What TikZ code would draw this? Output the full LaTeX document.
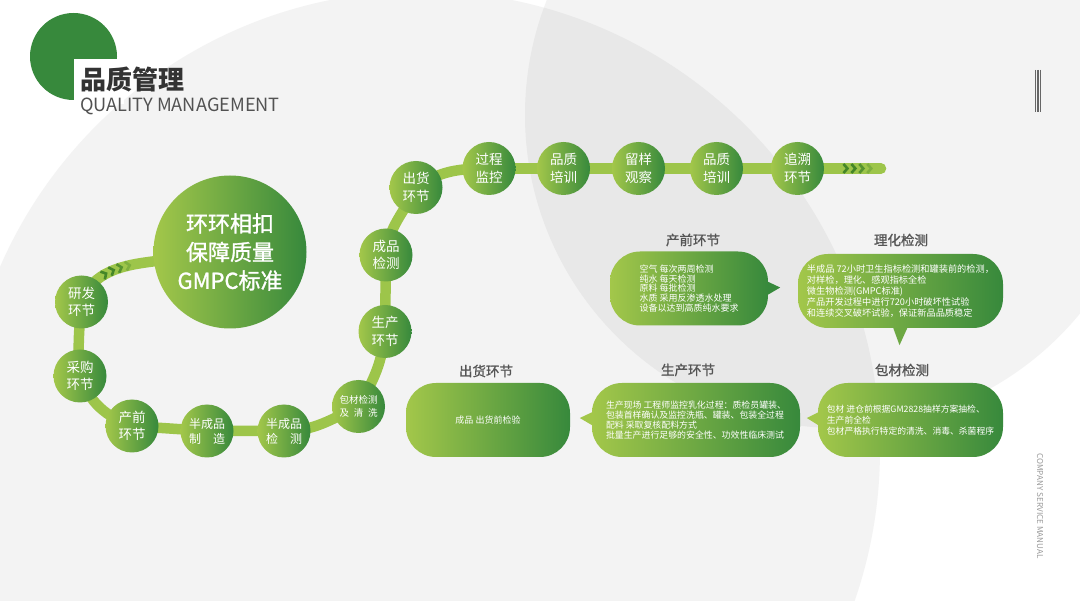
\documentclass[tikz,border=0pt]{standalone}
\usepackage{fontspec}
\setmainfont{Noto Sans CJK SC}
\newfontfamily\semibold[FakeBold=1.2]{Noto Sans CJK SC}
\usetikzlibrary{backgrounds,calc,decorations.markings}

\definecolor{leaf}{RGB}{163,199,74}
\definecolor{forest}{RGB}{55,137,60}
\definecolor{trackgreen}{RGB}{157,197,74}
\definecolor{chevgreen}{RGB}{68,134,40}
\definecolor{paper}{RGB}{243,243,243}
\definecolor{lensgrey}{RGB}{232,232,232}
\definecolor{ink}{RGB}{85,85,85}

\newcommand\chevmark[1]{\draw[line width=2.6pt,line cap=butt,line join=miter,#1] (-2.5,-4.5) -- (1.5,0) -- (-2.5,4.5);}

\begin{document}
\begin{tikzpicture}[
  x=1pt,y=-1pt,
  stage/.style={circle,minimum size=53pt,inner sep=0pt,left color=leaf,right color=forest,text=white,align=center,font=\fontsize{13.5}{17.5}\selectfont},
  stagesm/.style={stage,font=\fontsize{12}{15}\selectfont},
  hub/.style={stage,minimum size=153pt,font=\semibold\fontsize{22}{28.5}\selectfont},
  bubble/.style={rounded corners=30pt,left color=leaf,right color=forest,text=white,align=left,inner sep=0pt,minimum height=74pt},
  btitle/.style={text=ink,font=\semibold\fontsize{13.5}{14}\selectfont},
  trail/.style={line width=10.5pt,line cap=round,trackgreen},
  chevs/.style={postaction={decorate,decoration={markings,
    mark=at position #1 with {\chevmark{chevgreen}},
    mark=at position #1+.095 with {\chevmark{chevgreen}},
    mark=at position #1+.19 with {\chevmark{chevgreen!80!trackgreen}},
    mark=at position #1+.285 with {\chevmark{chevgreen!35!trackgreen}}}}}
]
\useasboundingbox (0,0) rectangle (1080,601);

% title block
\fill[forest] (73.5,56.5) circle (43.5);
\fill[white] (74,59) rectangle (124,104);
\node[anchor=west,inner sep=0pt,text=black!80,font=\bfseries\fontsize{26}{26}\selectfont] (ttl) at (80,79.5) {品质管理};
\node[anchor=west,inner sep=0pt,text=black!68,font=\fontsize{18.2}{19}\selectfont] (ttlen) at (80,106) {QUALITY MANAGEMENT};
\foreach \sx in {1035.5,1038,1040.5}
  \draw[black!60,line width=1.1pt] (\sx,70) -- (\sx,112);
\node[rotate=-90,text=black!40,font=\fontsize{8.1}{9}\selectfont] (manual) at (1040,506) {COMPANY SERVICE MANUAL};

% chain of stages
\node[hub] (hub) at (230,252) {环环相扣\\保障质量\\GMPC标准};
\node[stage] (rd) at (81.5,302) {研发\\环节};
\node[stage] (cg) at (80,376) {采购\\环节};
\node[stage] (cq) at (132,426) {产前\\环节};
\node[stagesm] (bz) at (207,431) {半成品\\制\quad 造};
\node[stagesm] (bj) at (284,431) {半成品\\检\quad 测};
\node[stage,font=\fontsize{9.5}{12.5}\selectfont] (bc) at (358.5,406.5) {包材检测\\及\enspace 清\enspace 洗};
\node[stage] (sc) at (385,331.5) {生产\\环节};
\node[stage] (cp) at (386,255) {成品\\检测};
\node[stage] (ch) at (416,187.5) {出货\\环节};
\node[stage] (gc) at (489,168.5) {过程\\监控};
\node[stage] (pz) at (563.5,168.5) {品质\\培训};
\node[stage] (ly) at (638.5,168.5) {留样\\观察};
\node[stage] (px) at (716.5,168.5) {品质\\培训};
\node[stage] (zs) at (797.5,168.5) {追溯\\环节};
\coordinate (tail) at (881,168.5);

% detail bubbles
\node[btitle] (tq) at (693,240) {产前环节};
\node[bubble,minimum width=158pt,font=\fontsize{9}{9.9}\selectfont] (bq) at (689,288.5) {空气 每次两周检测\\纯水 每天检测\\原料 每批检测\\水质 采用反渗透水处理\\设备以达到高质纯水要求};
\node[btitle] (tl) at (901,240) {理化检测};
\node[bubble,minimum width=205pt,font=\fontsize{9.2}{10.9}\selectfont] (bl) at (900.5,291) {半成品 72小时卫生指标检测和罐装前的检测，\\对样检，理化、感观指标全检\\微生物检测(GMPC标准)\\产品开发过程中进行720小时破坏性试验\\和连续交叉破坏试验，保证新品品质稳定};
\node[btitle] (th) at (486,371) {出货环节};
\node[bubble,minimum width=164pt,font=\fontsize{9}{9}\selectfont] (bh) at (488,420) {成品 出货前检验};
\node[btitle] (ts) at (688,370) {生产环节};
\node[bubble,minimum width=208pt,font=\fontsize{8.9}{10}\selectfont] (bs) at (696,420) {生产现场 工程师监控乳化过程：质检员罐装、\\包装首样确认及监控洗瓶、罐装、包装全过程\\配料 采取复核配料方式\\批量生产进行足够的安全性、功效性临床测试};
\node[btitle] (tb) at (902,370) {包材检测};
\node[bubble,minimum width=185pt,font=\fontsize{8.8}{11}\selectfont] (bb) at (910.5,420) {包材 进仓前根据GM2828抽样方案抽检、\\生产前全检\\包材严格执行特定的清洗、消毒、杀菌程序};

\begin{scope}[on background layer]
  \fill[white] (0,0) rectangle (1080,601);
  \clip (0,0) rectangle (1080,601);
  \fill[paper] (421,450) circle (459);
  \fill[paper] (838,115) circle (313);
  \begin{scope}
    \clip (421,450) circle (459);
    \fill[lensgrey] (838,115) circle (313);
  \end{scope}
  % the track behind the stages
  \draw[trail,chevs=.42] (rd.center) to[out=70,in=187] (hub.187);
  \draw[trail] (rd.center) to[out=-95,in=95] (cg.center);
  \draw[trail] (cg.center) to[out=-70,in=160] (cq.center);
  \draw[trail] (cq.center) -- (bz.center) -- (bj.center);
  \draw[trail] (bj.center) to[out=0,in=205] (bc.center);
  \draw[trail] (bc.center) to[out=60,in=-95] (sc.center);
  \draw[trail] (sc.center) -- (cp.center);
  \draw[trail] (cp.center) to[out=85,in=245] (ch.center);
  \draw[trail] (ch.center) to[out=35,in=180] (gc.center);
  \draw[trail] (gc.center) -- (zs.center);
  \draw[trail,chevs=.58] (zs.center) -- (tail);
  % bubble pointers
  \fill[forest] ($(bq.east)+(-5,-9)$) -- ($(bq.east)+(12,-1)$) -- ($(bq.east)+(-5,9)$) -- cycle;
  \fill[leaf!50!forest] ($(bl.south)+(-9,-5)$) -- ($(bl.south)+(-1,17)$) -- ($(bl.south)+(9,-5)$) -- cycle;
  \fill[leaf] ($(bs.west)+(5,-10)$) -- ($(bs.west)+(-12,-2)$) -- ($(bs.west)+(5,8)$) -- cycle;
  \fill[leaf] ($(bb.west)+(5,-10)$) -- ($(bb.west)+(-11,-2)$) -- ($(bb.west)+(5,8)$) -- cycle;
\end{scope}
\end{tikzpicture}
\end{document}
